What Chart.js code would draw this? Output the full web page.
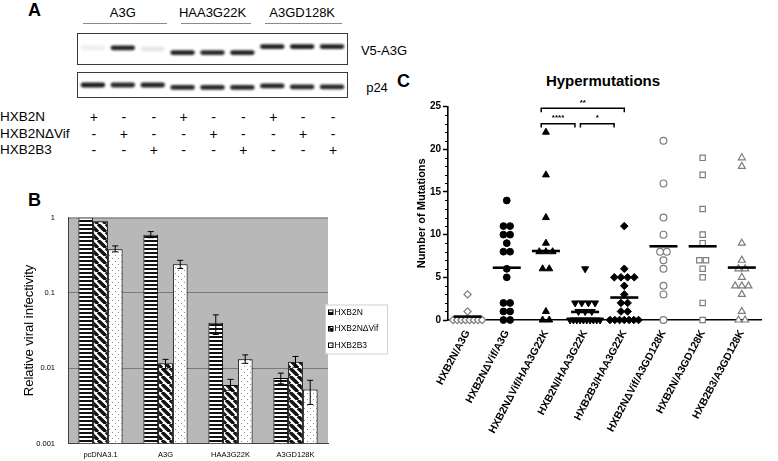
<!DOCTYPE html>
<html>
<head>
<meta charset="utf-8">
<script src="https://cdn.jsdelivr.net/npm/chart.js"></script>
<style>
  body { margin: 0; width: 778px; height: 461px; position: relative; overflow: hidden; background: #fff;
         font-family: Arial, "Liberation Sans", sans-serif; color: #000; }
  .t { position: absolute; white-space: nowrap; line-height: 1; }
  .letter { font-weight: bold; font-size: 18px; }
  .hdr { font-size: 13px; transform: translateX(-50%); }
  .rule { position: absolute; height: 0; border-top: 1px solid #8a8a8a; }
  .box { position: absolute; border: 1px solid #3a3a3a; background: #fff; }
  .sign { font-size: 14px; transform: translateX(-50%); }
  .row { font-size: 13.5px; }
  canvas { position: absolute; }
</style>
</head>
<body>

<!-- panel A : blot -->
<div class="t letter" style="left:28px;top:1px">A</div>
<div id="headers"></div>
<div class="box" style="left:77px;top:33px;width:269px;height:30px"><canvas id="blotV5" width="269" height="30" style="left:0;top:0"></canvas></div>
<div class="box" style="left:77px;top:72px;width:269px;height:24px"><canvas id="blotP24" width="269" height="24" style="left:0;top:0"></canvas></div>
<div class="t hdr" style="left:384px;top:44px">V5-A3G</div>
<div class="t hdr" style="left:377px;top:81px">p24</div>
<div id="signs"></div>

<!-- panel B -->
<div class="t letter" style="left:28px;top:191px">B</div>
<canvas id="infChart" width="377" height="261" style="left:18px;top:200px"></canvas>

<!-- panel C -->
<div class="t letter" style="left:397px;top:72px">C</div>
<div class="t" style="left:603px;top:73px;font-size:15px;font-weight:bold;transform:translateX(-50%)">Hypermutations</div>
<canvas id="mutChart" width="388" height="371" style="left:390px;top:90px"></canvas>

<script>
// ---------- panel A data ----------
const constructs = ['A3G', 'HAA3G22K', 'A3GD128K'];
const viruses = ['HXB2N', 'HXB2NΔVif', 'HXB2B3'];
// band darkness (0-1) and relative migration in the lane (0 top - 1 bottom)
const v5Intensity = [0.07, 0.92, 0.1, 0.93, 0.9, 0.93, 0.93, 0.95, 0.93];
const v5Migration = [0.46, 0.46, 0.5, 0.62, 0.62, 0.62, 0.42, 0.42, 0.42];
const p24Intensity = [0.95, 0.9, 0.92, 0.9, 0.9, 0.9, 0.92, 0.9, 0.9];
const p24Migration = [0.5, 0.5, 0.5, 0.6, 0.6, 0.6, 0.54, 0.58, 0.58];

// ---------- panel B data ----------
const infCategories = ['pcDNA3.1', 'A3G', 'HAA3G22K', 'A3GD128K'];
const infSeries = ['HXB2N', 'HXB2NΔVif', 'HXB2B3'];
const infHXB2N = [1.0, 0.59, 0.04, 0.0074];
const infHXB2NHi = [null, 0.65, 0.051, 0.0086];
const infHXB2NLo = [null, 0.54, 0.028, 0.0062];
const infVif = [0.89, 0.0116, 0.006, 0.0122];
const infVifHi = [null, 0.0131, 0.0071, 0.0143];
const infVifLo = [null, 0.0098, 0.0051, 0.0103];
const infB3 = [0.38, 0.24, 0.0131, 0.0052];
const infB3Hi = [0.42, 0.27, 0.015, 0.0069];
const infB3Lo = [0.35, 0.21, 0.0116, 0.0033];
const infTicks = [0.001, 0.01, 0.1, 1];

// ---------- panel C data ----------
const mutGroups = ['HXB2N/A3G', 'HXB2NΔVif/A3G', 'HXB2NΔVif/HAA3G22K', 'HXB2N/HAA3G22K',
                   'HXB2B3/HAA3G22K', 'HXB2NΔVif/A3GD128K', 'HXB2N/A3GD128K', 'HXB2B3/A3GD128K'];
const mutN_A3G = [3, 1, 0, 0, 0, 0, 0, 0, 0, 0];
const mutVif_A3G = [14, 11, 11, 10, 10, 9, 8, 8, 6, 5, 2, 2, 1, 1, 0, 0];
const mutVif_HAA = [22, 17, 12, 9, 8, 8, 8, 6, 6, 1, 0, 0];
const mutN_HAA = [6, 2, 2, 2, 2, 1, 1, 1, 0, 0, 0, 0, 0, 0, 0, 0, 0, 0];
const mutB3_HAA = [11, 6, 5, 5, 5, 5, 4, 3, 2, 2, 1, 1, 0, 0, 0, 0, 0, 0, 0];
const mutVif_D128 = [21, 16, 12, 10, 8, 8, 7, 6, 4, 3, 0];
const mutN_D128 = [19, 17, 13, 10, 9, 7, 7, 6, 5, 2, 0];
const mutB3_D128 = [19, 18, 9, 7, 6, 6, 5, 4, 4, 4, 3, 1, 0, 0];
const mutTicks = [0, 5, 10, 15, 20, 25];
const sigFrom = [2, 2, 3];
const sigTo = [4, 3, 4];
const sigLevel = [24.8, 23, 23];
const sigLabel = ['**', '****', '*'];

// ================= panel A =================
const laneLeft = 78, laneW = 269 / 9;
const laneX = i => laneLeft + laneW * (i + 0.5);

let html = '';
const ruleSpans = [[83, 167], [181, 251], [265, 342]];
constructs.forEach((c, ci) => {
  const mid = laneX(ci * 3 + 1);
  html += `<div class="t hdr" style="left:${mid}px;top:6px">${c}</div>`;
  html += `<div class="rule" style="left:${ruleSpans[ci][0]}px;top:23px;width:${ruleSpans[ci][1] - ruleSpans[ci][0]}px"></div>`;
});
document.getElementById('headers').innerHTML = html;

html = '';
const rowTop = [110, 127, 143];
viruses.forEach((v, vi) => {
  html += `<div class="t row" style="left:0;top:${rowTop[vi]}px">${v}</div>`;
  for (let lane = 0; lane < 9; lane++) {
    const s = lane % 3 === vi ? '+' : '-';
    html += `<div class="t sign" style="left:${laneX(lane) + 1}px;top:${rowTop[vi]}px">${s}</div>`;
  }
});
document.getElementById('signs').innerHTML = html;

const blur = {
  id: 'blur',
  beforeDatasetsDraw(chart) { chart.ctx.save(); chart.ctx.filter = 'blur(0.8px)'; },
  afterDatasetsDraw(chart) { chart.ctx.restore(); }
};

function blotChart(id, migration, intensity, half) {
  new Chart(document.getElementById(id), {
    type: 'bar',
    data: {
      labels: migration.map((_, i) => 'lane ' + (i + 1)),
      datasets: [{
        data: migration.map(m => [m - half, m + half]),
        backgroundColor: intensity.map(a => `rgba(18,18,18,${a})`),
        borderWidth: 0,
        borderRadius: 3,
        borderSkipped: false,
        barPercentage: 0.82,
        categoryPercentage: 1
      }]
    },
    options: {
      responsive: false,
      animation: false,
      events: [],
      layout: { padding: 0 },
      plugins: { legend: { display: false }, tooltip: { enabled: false } },
      scales: {
        x: { display: false },
        y: { display: false, min: 0, max: 1, reverse: true }
      }
    },
    plugins: [blur]
  });
}
blotChart('blotV5', v5Migration, v5Intensity, 0.08);
blotChart('blotP24', p24Migration, p24Intensity, 0.1);

// ================= panel B =================
function makePattern(kind) {
  const c = document.createElement('canvas');
  const g = c.getContext('2d');
  if (kind === 'hstripe') {
    c.width = 4; c.height = 4;
    g.fillStyle = '#fff'; g.fillRect(0, 0, 4, 4);
    g.fillStyle = '#111'; g.fillRect(0, 0, 4, 2);
  } else if (kind === 'diag') {
    c.width = 8; c.height = 8;
    g.fillStyle = '#fff'; g.fillRect(0, 0, 8, 8);
    g.strokeStyle = '#111'; g.lineWidth = 3.4;
    [-8, 0, 8].forEach(k => { g.beginPath(); g.moveTo(k, 0); g.lineTo(k + 8, 8); g.stroke(); });
  } else {
    c.width = 6; c.height = 6;
    g.fillStyle = '#fff'; g.fillRect(0, 0, 6, 6);
    g.fillStyle = '#8a8a8a'; g.fillRect(1, 1, 1, 1); g.fillRect(4, 4, 1, 1);
  }
  return g.createPattern(c, 'repeat');
}
const patterns = [makePattern('hstripe'), makePattern('diag'), makePattern('dots')];

const plotBg = {
  id: 'plotBg',
  beforeDraw(chart) {
    const { ctx, chartArea: a } = chart;
    ctx.save();
    ctx.fillStyle = '#b8b8b8';
    ctx.fillRect(a.left, a.top, a.right - a.left, a.bottom - a.top);
    ctx.strokeStyle = '#707070'; ctx.lineWidth = 1;
    ctx.beginPath(); ctx.moveTo(a.left, a.top + 0.5); ctx.lineTo(a.right, a.top + 0.5); ctx.stroke();
    ctx.restore();
  }
};

const errorBars = {
  id: 'errorBars',
  afterDatasetsDraw(chart) {
    const ctx = chart.ctx, y = chart.scales.y;
    ctx.save();
    ctx.strokeStyle = '#000'; ctx.lineWidth = 1;
    chart.data.datasets.forEach((ds, di) => {
      chart.getDatasetMeta(di).data.forEach((bar, i) => {
        const hi = ds.errHi[i], lo = ds.errLo[i];
        if (hi == null) return;
        const yh = y.getPixelForValue(hi), yl = y.getPixelForValue(lo);
        ctx.beginPath();
        ctx.moveTo(bar.x, yh); ctx.lineTo(bar.x, yl);
        ctx.moveTo(bar.x - 3, yh); ctx.lineTo(bar.x + 3, yh);
        ctx.moveTo(bar.x - 3, yl); ctx.lineTo(bar.x + 3, yl);
        ctx.stroke();
      });
    });
    ctx.restore();
  }
};

const boxLegend = {
  id: 'boxLegend',
  afterDraw(chart) {
    const { ctx, chartArea: a } = chart;
    const x0 = a.right - 3, y0 = a.top + 87, w = 62, h = 49;
    ctx.save();
    ctx.fillStyle = '#fff';
    ctx.fillRect(x0, y0, w, h);
    ctx.strokeStyle = '#d0d0d0'; ctx.lineWidth = 1;
    ctx.strokeRect(x0 + 0.5, y0 + 0.5, w, h);
    ctx.font = '8.5px Arial, "Liberation Sans", sans-serif';
    ctx.textBaseline = 'middle';
    chart.data.datasets.forEach((ds, i) => {
      const cy = y0 + 8 + i * 16.5;
      ctx.fillStyle = ds.backgroundColor;
      ctx.fillRect(x0 + 3, cy - 2.5, 5, 5);
      ctx.strokeStyle = '#000';
      ctx.strokeRect(x0 + 3.5, cy - 2.5, 4.5, 4.5);
      ctx.fillStyle = '#000';
      ctx.fillText(ds.label, x0 + 9.5, cy);
    });
    ctx.restore();
  }
};

const infValues = [infHXB2N, infVif, infB3];
const infHi = [infHXB2NHi, infVifHi, infB3Hi];
const infLo = [infHXB2NLo, infVifLo, infB3Lo];

new Chart(document.getElementById('infChart'), {
  type: 'bar',
  data: {
    labels: infCategories,
    datasets: infSeries.map((name, i) => ({
      label: name,
      data: infValues[i],
      errHi: infHi[i],
      errLo: infLo[i],
      backgroundColor: patterns[i],
      borderColor: '#000',
      borderWidth: 1,
      borderSkipped: 'bottom',
      categoryPercentage: 0.68,
      barPercentage: 1
    }))
  },
  options: {
    responsive: false,
    animation: false,
    events: [],
    layout: { padding: { top: 15, right: 67, left: 0, bottom: 0 } },
    plugins: { legend: { display: false }, tooltip: { enabled: false } },
    scales: {
      x: {
        grid: { display: false, drawTicks: false },
        border: { color: '#404040' },
        afterFit(s) { s.height = 17; },
        ticks: { color: '#000', padding: 7, font: { size: 7.5 } }
      },
      y: {
        type: 'logarithmic',
        min: 0.001,
        max: 1,
        afterFit(s) { s.width = 50; },
        afterBuildTicks(s) { s.ticks = infTicks.map(v => ({ value: v })); },
        grid: {
          drawTicks: false,
          color: c => (c.tick && (c.tick.value === 0.1 || c.tick.value === 0.01)) ? '#7a7a7a' : 'rgba(0,0,0,0)'
        },
        border: { color: '#404040' },
        ticks: { color: '#000', padding: 13, font: { size: 7.5 }, callback: v => String(v) },
        title: { display: true, text: 'Relative viral infectivity', color: '#000', font: { size: 13 } }
      }
    }
  },
  plugins: [plotBg, errorBars, boxLegend]
});

// ================= panel C =================
const mutValues = [mutN_A3G, mutVif_A3G, mutVif_HAA, mutN_HAA, mutB3_HAA, mutVif_D128, mutN_D128, mutB3_D128];
const gray = '#7d7d7d';
const markStyles = [
  { pointStyle: 'rectRot', filled: false, r: 3.6, rot: 0 },
  { pointStyle: 'circle', filled: true, r: 3.4, rot: 0 },
  { pointStyle: 'triangle', filled: true, r: 4, rot: 0 },
  { pointStyle: 'triangle', filled: true, r: 4, rot: 180 },
  { pointStyle: 'rectRot', filled: true, r: 3.8, rot: 0 },
  { pointStyle: 'circle', filled: false, r: 3.4, rot: 0 },
  { pointStyle: 'rect', filled: false, r: 3.8, rot: 0 },
  { pointStyle: 'triangle', filled: false, r: 4, rot: 0 }
];

function swarm(values, gi) {
  const counts = {}, seen = {};
  values.forEach(v => { counts[v] = (counts[v] || 0) + 1; });
  return values.map(v => {
    const n = counts[v];
    const k = seen[v] = (seen[v] === undefined ? 0 : seen[v] + 1);
    const step = Math.min(0.17, 0.85 / n);
    return { x: gi + (k - (n - 1) / 2) * step, y: v };
  });
}
const mean = a => a.reduce((s, v) => s + v, 0) / a.length;

const minorTicks = {
  id: 'minorTicks',
  afterDraw(chart) {
    const { ctx, chartArea: a, scales: { y } } = chart;
    ctx.save();
    ctx.strokeStyle = '#000'; ctx.lineWidth = 1;
    for (let v = y.min; v <= y.max; v++) {
      if (v % 5 === 0) continue;
      const py = Math.round(y.getPixelForValue(v)) + 0.5;
      ctx.beginPath(); ctx.moveTo(a.left - 3, py); ctx.lineTo(a.left, py); ctx.stroke();
    }
    ctx.restore();
  }
};

const brackets = {
  id: 'brackets',
  afterDraw(chart) {
    const { ctx, scales: { x, y } } = chart;
    ctx.save();
    ctx.strokeStyle = '#000'; ctx.lineWidth = 1.5;
    ctx.fillStyle = '#000';
    ctx.font = 'bold 8px Arial, "Liberation Sans", sans-serif';
    ctx.textAlign = 'center'; ctx.textBaseline = 'bottom';
    sigFrom.forEach((f, i) => {
      const t = sigTo[i];
      const xa = x.getPixelForValue(f - 0.12);
      const xb = x.getPixelForValue(t - (t - f === 1 ? 0.26 : 0));
      const yt = y.getPixelForValue(sigLevel[i]);
      const yd = y.getPixelForValue(sigLevel[i] - 0.45);
      ctx.beginPath();
      ctx.moveTo(xa, yd); ctx.lineTo(xa, yt); ctx.lineTo(xb, yt); ctx.lineTo(xb, yd);
      ctx.stroke();
      ctx.fillText(sigLabel[i], (xa + xb) / 2, yt - 1.5);
    });
    ctx.restore();
  }
};

const mutDatasets = [{
  label: 'mean',
  data: mutValues.map((vals, i) => ({ x: i, y: mean(vals) })),
  pointStyle: 'line',
  radius: 14,
  borderWidth: 2.6,
  borderColor: '#000',
  clip: false
}];
mutValues.forEach((vals, i) => {
  const st = markStyles[i];
  mutDatasets.push({
    label: mutGroups[i],
    data: swarm(vals, i),
    pointStyle: st.pointStyle,
    rotation: st.rot,
    radius: st.r,
    backgroundColor: st.filled ? '#000' : '#fff',
    borderColor: st.filled ? '#000' : gray,
    borderWidth: st.filled ? 1 : 1.2,
    clip: false
  });
});

new Chart(document.getElementById('mutChart'), {
  type: 'scatter',
  data: { datasets: mutDatasets },
  options: {
    responsive: false,
    animation: false,
    events: [],
    layout: { padding: { top: 12, right: 1, left: 0, bottom: 0 } },
    plugins: { legend: { display: false }, tooltip: { enabled: false } },
    scales: {
      x: {
        type: 'linear',
        min: -0.5,
        max: 7.5,
        afterFit(s) { s.height = 141; },
        afterBuildTicks(s) { s.ticks = mutGroups.map((_, i) => ({ value: i })); },
        grid: { display: false, drawTicks: false },
        border: { color: '#000', width: 1.6 },
        ticks: {
          autoSkip: false,
          minRotation: 62,
          maxRotation: 62,
          padding: 8,
          color: '#000',
          font: { size: 10.5, weight: 'bold' },
          callback: v => mutGroups[v]
        }
      },
      y: {
        min: 0,
        max: 25,
        afterFit(s) { s.width = 58; },
        afterBuildTicks(s) { s.ticks = mutTicks.map(v => ({ value: v })); },
        grid: { drawOnChartArea: false, tickLength: 5, tickColor: '#000', tickWidth: 1.5 },
        border: { color: '#000', width: 1.6 },
        ticks: { color: '#000', padding: 2, font: { size: 10, weight: 'bold' } },
        title: {
          display: true, text: 'Number of Mutations', color: '#000',
          font: { size: 11, weight: 'bold' }, padding: { top: 25, bottom: 0 }
        }
      }
    }
  },
  plugins: [minorTicks, brackets]
});
</script>
</body>
</html>
